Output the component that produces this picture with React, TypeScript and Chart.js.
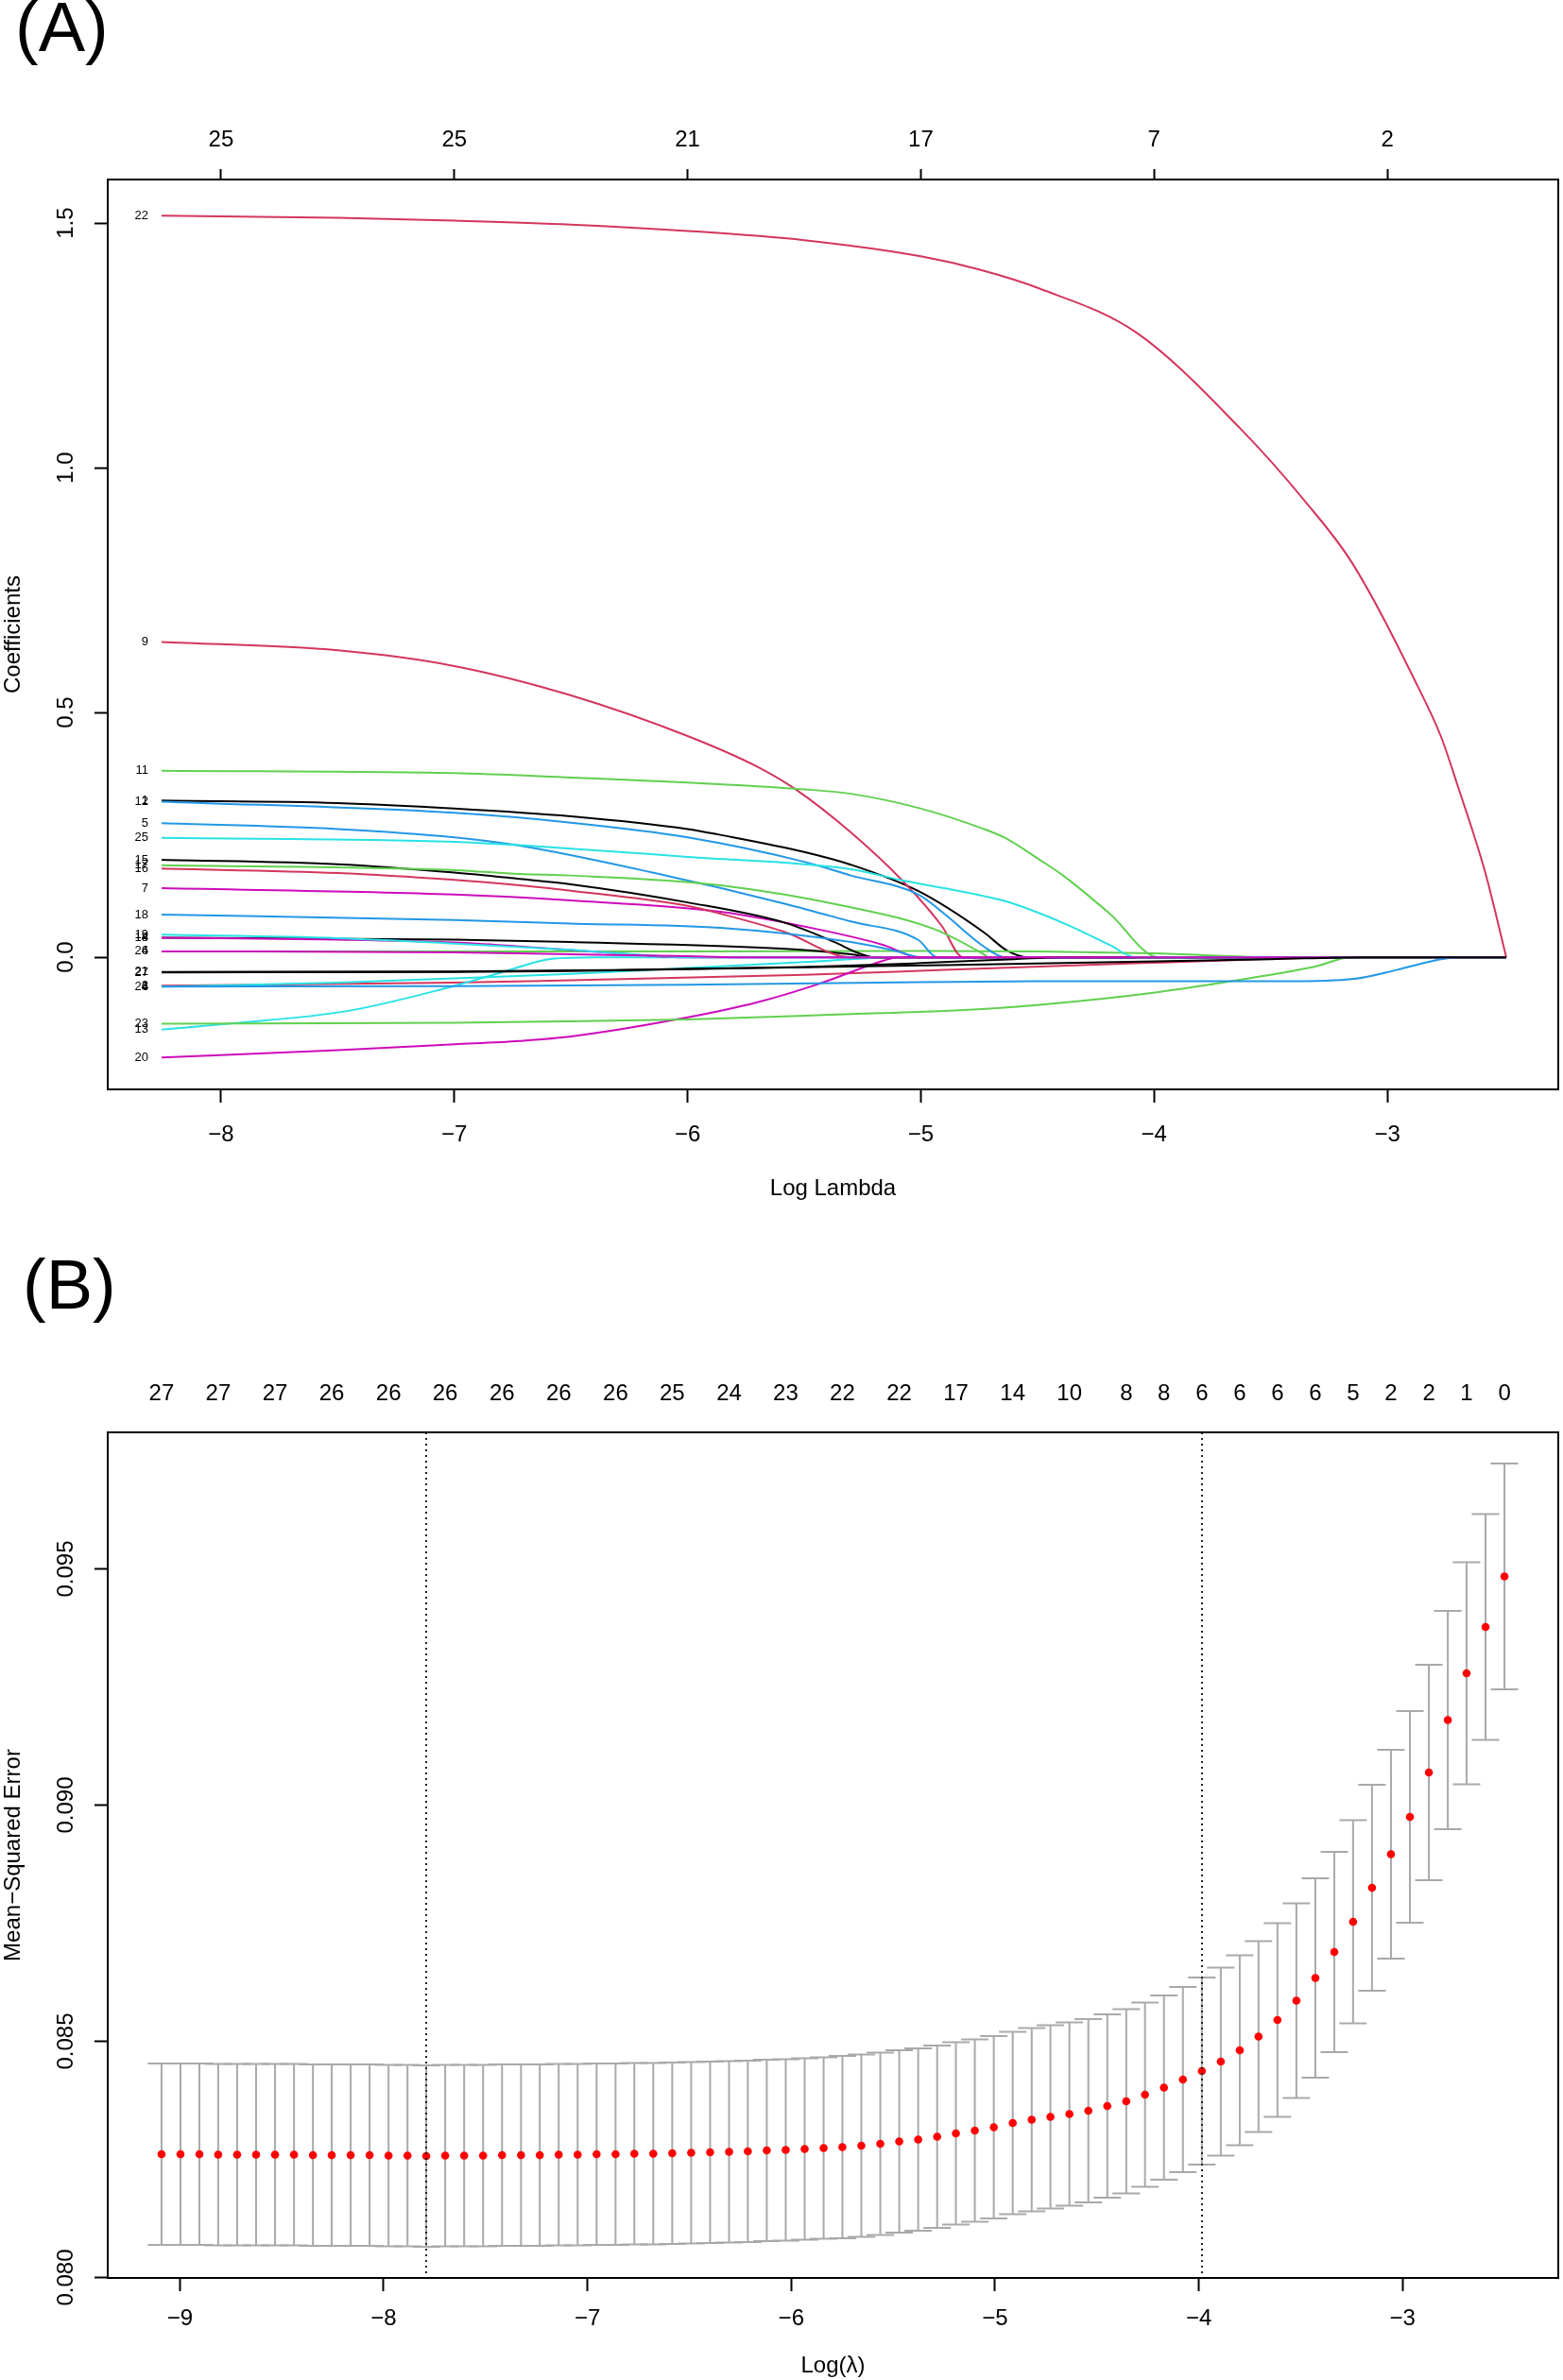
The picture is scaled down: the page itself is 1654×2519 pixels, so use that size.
import { useEffect, useRef } from "react";
import { Chart, registerables } from "chart.js";

Chart.register(...registerables);

const FONT = "'Liberation Sans', Arial, Helvetica, sans-serif";
const rPalette = ["#000000", "#D3365D", "#61D04F", "#2297E6", "#28E2E5", "#CD0BBC"];

// ---------- (A) coefficient paths ----------
const xTicksA = [-8, -7, -6, -5, -4, -3];
const xTickLabelsA = ["−8", "−7", "−6", "−5", "−4", "−3"];
const dfTopA = ["25", "25", "21", "17", "7", "2"];
const yTicksA = [0, 0.5, 1, 1.5];
const yTickLabelsA = ["0.0", "0.5", "1.0", "1.5"];
const logLambdaEndA = -2.49;

const varIds = [1, 2, 4, 5, 6, 7, 8, 9, 11, 12, 13, 14, 15, 16, 17, 18, 19, 20, 21, 22, 23, 24, 25, 26, 27];

const path1 = [[-8.255, 0.32], [-7.5, 0.315], [-7, 0.304], [-6.5, 0.288], [-6, 0.262], [-5.86, 0.25], [-5.5, 0.215], [-5.3, 0.189], [-5.01, 0.135], [-4.73, 0.051], [-4.63, 0.0135], [-4.54, 0]];
const path2 = [[-8.255, -0.058], [-7, -0.052], [-6.5, -0.047], [-5.5, -0.036], [-4.9, -0.026], [-4.05, -0.012], [-3.6, -0.005], [-3.2, 0]];
const path4 = [[-8.255, 0.012], [-6, 0.012], [-5, 0.013], [-4.5, 0.012], [-4, 0.008], [-3.46, 0]];
const path5 = [[-8.255, 0.274], [-7.5, 0.262], [-7, 0.245], [-6.72, 0.228], [-6.15, 0.173], [-5.58, 0.109], [-5.3, 0.073], [-5.01, 0.035], [-4.93, 0]];
const path6 = [[-8.255, -0.06], [-7.5, -0.052], [-7, -0.043], [-6.5, -0.034], [-6, -0.022], [-5.5, -0.01], [-5.1, 0]];
const path7 = [[-8.255, 0.141], [-7, 0.128], [-6.5, 0.116], [-5.86, 0.093], [-5.44, 0.057], [-5.16, 0.025], [-5.01, 0]];
const path8 = [[-8.255, 0.04], [-7, 0.036], [-6.5, 0.031], [-5.58, 0.017], [-5.3, 0.006], [-5.2, 0]];
const path9 = [[-8.255, 0.644], [-7.5, 0.627], [-7, 0.595], [-6.5, 0.535], [-6, 0.452], [-5.7, 0.389], [-5.54, 0.344], [-5.3, 0.255], [-5.08, 0.157], [-4.91, 0.064], [-4.82, 0]];
const path11 = [[-8.255, 0.381], [-7, 0.376], [-6.5, 0.367], [-6, 0.357], [-5.5, 0.343], [-5.3, 0.334], [-5.01, 0.305], [-4.73, 0.262], [-4.64, 0.244], [-4.49, 0.199], [-4.39, 0.167], [-4.19, 0.089], [-3.98, 0]];
const path12 = [[-8.255, 0.318], [-7, 0.295], [-6.5, 0.275], [-6, 0.245], [-5.5, 0.195], [-5.3, 0.167], [-5.01, 0.128], [-4.9, 0.089], [-4.73, 0.022], [-4.64, 0]];
const path13 = [[-8.255, -0.148], [-7.97, -0.136], [-7.46, -0.11], [-7.05, -0.065], [-6.79, -0.03], [-6.58, -0.003], [-6.4, 0]];
const path14 = [[-8.255, 0.04], [-7.5, 0.036], [-7, 0.03], [-6.72, 0.022], [-6.3, 0.008], [-6.04, 0]];
const path15 = [[-8.255, 0.199], [-7.5, 0.19], [-7, 0.173], [-6.72, 0.16], [-6.5, 0.149], [-6, 0.112], [-5.58, 0.07], [-5.37, 0.031], [-5.27, 0.009], [-5.2, 0]];
const path16 = [[-8.255, 0.181], [-7.5, 0.172], [-7, 0.158], [-6.72, 0.147], [-6.5, 0.136], [-6, 0.105], [-5.86, 0.089], [-5.58, 0.051], [-5.3, 0]];
const path17 = [[-8.255, 0.188], [-7, 0.178], [-6.72, 0.17], [-6.5, 0.167], [-5.86, 0.147], [-5.3, 0.102], [-4.94, 0.057], [-4.73, 0.006], [-4.71, 0]];
const path18 = [[-8.255, 0.087], [-7, 0.076], [-6.5, 0.069], [-5.86, 0.06], [-5.3, 0.031], [-5.1, 0.012], [-5.0, 0]];
const path19 = [[-8.255, 0.046], [-7.5, 0.039], [-7, 0.028], [-6.5, 0.015], [-6.2, 0.005], [-6.0, 0]];
const path20 = [[-8.255, -0.205], [-7.5, -0.19], [-7, -0.178], [-6.72, -0.171], [-6.5, -0.162], [-6, -0.123], [-5.7, -0.092], [-5.44, -0.055], [-5.16, -0.007], [-5.1, 0]];
const path21 = [[-8.255, -0.03], [-7, -0.029], [-6.5, -0.027], [-5.5, -0.02], [-5.0, -0.012], [-4.6, -0.004], [-4.4, 0]];
const path22 = [[-8.255, 1.515], [-7.5, 1.511], [-7, 1.505], [-6.5, 1.497], [-6, 1.484], [-5.5, 1.465], [-5, 1.432], [-4.75, 1.405], [-4.49, 1.366], [-4.075, 1.276], [-3.63, 1.08], [-3.35, 0.93], [-3.15, 0.805], [-2.87, 0.554], [-2.77, 0.451], [-2.7, 0.353], [-2.58, 0.173], [-2.49, 0]];
const path23 = [[-8.255, -0.136], [-7, -0.134], [-6.5, -0.131], [-6, -0.127], [-5.3, -0.116], [-4.9, -0.11], [-4.49, -0.097], [-3.98, -0.071], [-3.54, -0.039], [-3.3, -0.018], [-3.16, 0]];
const path24 = [[-8.255, -0.06], [-7, -0.059], [-6, -0.056], [-5, -0.051], [-4.5, -0.049], [-3.43, -0.049], [-3.14, -0.044], [-2.96, -0.026], [-2.77, -0.004], [-2.7, 0]];
const path25 = [[-8.255, 0.244], [-7, 0.236], [-6.72, 0.229], [-6, 0.205], [-5.3, 0.18], [-5.08, 0.157], [-4.9, 0.141], [-4.73, 0.125], [-4.64, 0.115], [-4.39, 0.07], [-4.19, 0.025], [-4.08, 0]];
const path26 = [[-8.255, 0.012], [-7, 0.01], [-6.5, 0.006], [-6, 0.002], [-5.8, 0]];
const path27 = [[-8.255, -0.031], [-7, -0.03], [-6.5, -0.028], [-5.3, -0.019], [-4.9, -0.016], [-4.05, -0.009], [-3.5, -0.004], [-3.1, 0]];

const coefPaths = [path1, path2, path4, path5, path6, path7, path8, path9, path11, path12, path13, path14, path15, path16, path17, path18, path19, path20, path21, path22, path23, path24, path25, path26, path27];

// ---------- (B) cross-validation curve ----------
const logLambdaB = [
  -9.09, -8.997, -8.904, -8.812, -8.719, -8.626, -8.533, -8.44, -8.347, -8.255,
  -8.162, -8.069, -7.976, -7.883, -7.791, -7.698, -7.605, -7.512, -7.419, -7.326,
  -7.234, -7.141, -7.048, -6.955, -6.862, -6.77, -6.677, -6.584, -6.491, -6.398,
  -6.305, -6.213, -6.12, -6.027, -5.934, -5.841, -5.749, -5.656, -5.563, -5.47,
  -5.377, -5.284, -5.192, -5.099, -5.006, -4.913, -4.82, -4.728, -4.635, -4.542,
  -4.449, -4.356, -4.264, -4.171, -4.078, -3.985, -3.892, -3.799, -3.707, -3.614,
  -3.521, -3.428, -3.335, -3.243, -3.15, -3.057, -2.964, -2.871, -2.778, -2.686,
  -2.593, -2.5,
];
const cvMean = [
  0.08261, 0.08261, 0.08261, 0.0826, 0.0826, 0.0826, 0.0826, 0.0826, 0.08259, 0.08259,
  0.08259, 0.08259, 0.08258, 0.08258, 0.08257, 0.08258, 0.08258, 0.08258, 0.08259, 0.08259,
  0.08259, 0.0826, 0.0826, 0.08261, 0.08261, 0.08262, 0.08262, 0.08263, 0.08264, 0.08265,
  0.08266, 0.08267, 0.08269, 0.0827, 0.08272, 0.08274, 0.08276, 0.08279, 0.08283, 0.08288,
  0.08292, 0.08298, 0.08305, 0.08311, 0.08318, 0.08327, 0.08334, 0.0834, 0.08346, 0.08353,
  0.08363, 0.08373, 0.08387, 0.08402, 0.08419, 0.08437, 0.08457, 0.08481, 0.0851, 0.08545,
  0.08586, 0.08634, 0.08689, 0.08753, 0.08825, 0.08896, 0.08975, 0.09069, 0.0918, 0.09279,
  0.09377, 0.09484,
];
const cvSd = [
  0.00192, 0.00192, 0.00192, 0.00192, 0.00192, 0.00192, 0.00192, 0.00192, 0.00192, 0.00192,
  0.00192, 0.00192, 0.00192, 0.00192, 0.00192, 0.00192, 0.00192, 0.00192, 0.00192, 0.00192,
  0.00192, 0.00192, 0.00192, 0.00192, 0.00192, 0.00192, 0.00192, 0.00192, 0.00192, 0.00192,
  0.00192, 0.00192, 0.00192, 0.00192, 0.00192, 0.00192, 0.00193, 0.00193, 0.00193, 0.00193,
  0.00193, 0.00193, 0.00193, 0.00193, 0.00193, 0.00193, 0.00194, 0.00194, 0.00194, 0.00194,
  0.00194, 0.00195, 0.00195, 0.00195, 0.00196, 0.00198, 0.00199, 0.00201, 0.00202, 0.00205,
  0.00206, 0.00211, 0.00212, 0.00215, 0.00218, 0.00221, 0.00224, 0.00228, 0.00231, 0.00235,
  0.00239, 0.00239,
];
const nzIndexB = [0, 3, 6, 9, 12, 15, 18, 21, 24, 27, 30, 33, 36, 39, 42, 45, 48, 51, 53, 55, 57, 59, 61, 63, 65, 67, 69, 71];
const nzLabelsB = ["27", "27", "27", "26", "26", "26", "26", "26", "26", "25", "24", "23", "22", "22", "17", "14", "10", "8", "8", "6", "6", "6", "6", "5", "2", "2", "1", "0"];
const xTicksB = [-9, -8, -7, -6, -5, -4, -3];
const xTickLabelsB = ["−9", "−8", "−7", "−6", "−5", "−4", "−3"];
const yTicksB = [0.08, 0.085, 0.09, 0.095];
const yTickLabelsB = ["0.080", "0.085", "0.090", "0.095"];
const minIndexB = 14;
const seIndexB = 55;

const boxPlugin = {
  id: "box",
  afterDraw(chart: any) {
    const { ctx, chartArea: a } = chart;
    ctx.save();
    ctx.strokeStyle = "#000";
    ctx.lineWidth = 2;
    ctx.strokeRect(a.left, a.top, a.right - a.left, a.bottom - a.top);
    ctx.restore();
  },
};

function yLabelPlugin(labels: string[]) {
  return {
    id: "yRotLabels",
    afterDraw(chart: any) {
      const s = chart.scales.y;
      const ctx = chart.ctx;
      ctx.save();
      ctx.fillStyle = "#000";
      ctx.font = `24px ${FONT}`;
      ctx.textAlign = "center";
      ctx.textBaseline = "middle";
      s.ticks.forEach((t: any, i: number) => {
        ctx.save();
        ctx.translate(s.right - 44, s.getPixelForValue(t.value));
        ctx.rotate(-Math.PI / 2);
        ctx.fillText(labels[i], 0, 0);
        ctx.restore();
      });
      ctx.restore();
    },
  };
}

function axisBase(min: number, max: number, ticks: number[], size: number, horizontal: boolean, tickLength: number) {
  return {
    type: "linear" as const,
    min,
    max,
    afterBuildTicks: (s: any) => {
      s.ticks = ticks.map((v) => ({ value: v }));
    },
    afterFit: (s: any) => {
      if (horizontal) s.height = size;
      else s.width = size;
    },
    grid: {
      drawOnChartArea: false,
      drawTicks: tickLength > 0,
      display: tickLength > 0,
      tickLength,
      tickWidth: 2,
      tickColor: "#000",
      color: "#000",
    },
    border: { display: false },
  };
}

function CoefPathChart() {
  const ref = useRef<HTMLCanvasElement>(null);
  useEffect(() => {
    if (!ref.current) return;
    const labelPlugin = {
      id: "pathLabels",
      afterDatasetsDraw(chart: any) {
        const { ctx, scales } = chart;
        ctx.save();
        ctx.font = `13px ${FONT}`;
        ctx.fillStyle = "#000";
        ctx.textAlign = "right";
        ctx.textBaseline = "middle";
        coefPaths.forEach((p, i) => {
          ctx.fillText(String(varIds[i]), scales.x.getPixelForValue(p[0][0]) - 14, scales.y.getPixelForValue(p[0][1]));
        });
        ctx.restore();
      },
    };
    const n = coefPaths.length;
    const chart = new Chart(ref.current, {
      type: "scatter",
      data: {
        datasets: coefPaths.map((p, i) => {
          const pts = p.map(([x, y]) => ({ x, y }));
          if (p[p.length - 1][0] < logLambdaEndA) pts.push({ x: logLambdaEndA, y: 0 });
          return {
            label: String(varIds[i]),
            data: pts,
            showLine: true,
            borderColor: rPalette[i % 6],
            borderWidth: 2,
            pointRadius: 0,
            cubicInterpolationMode: "monotone",
            order: n - i,
          };
        }),
      },
      options: {
        responsive: false,
        animation: false,
        layout: { padding: { left: 0, right: 5, top: 0, bottom: 0 }, autoPadding: false },
        plugins: { legend: { display: false }, tooltip: { enabled: false } },
        scales: {
          x: {
            ...axisBase(-8.486, -2.267, xTicksA, 147, true, 14),
            position: "bottom",
            ticks: { autoSkip: false, maxRotation: 0, padding: 20, color: "#000", font: { family: FONT, size: 24 }, callback: (_v: any, i: number) => xTickLabelsA[i] },
            title: { display: true, text: "Log Lambda", color: "#000", font: { family: FONT, size: 24 }, padding: { top: 0, bottom: 27 } },
          },
          x2: {
            ...axisBase(-8.486, -2.267, xTicksA, 190, true, 11),
            position: "top",
            ticks: { autoSkip: false, maxRotation: 0, padding: 16, color: "#000", font: { family: FONT, size: 24 }, callback: (_v: any, i: number) => dfTopA[i] },
          },
          y: {
            ...axisBase(-0.27, 1.589, yTicksA, 114, false, 14),
            position: "left",
            ticks: { display: false },
            title: { display: true, text: "Coefficients", color: "#000", font: { family: FONT, size: 24 }, padding: 0 },
          },
        },
      } as any,
      plugins: [labelPlugin, yLabelPlugin(yTickLabelsA), boxPlugin],
    });
    return () => chart.destroy();
  }, []);
  return <canvas ref={ref} width={1654} height={1300} style={{ position: "absolute", left: 0, top: 0, width: 1654, height: 1300 }} />;
}

function CvChart() {
  const ref = useRef<HTMLCanvasElement>(null);
  useEffect(() => {
    if (!ref.current) return;
    const errorBars = {
      id: "errorBars",
      beforeDatasetsDraw(chart: any) {
        const { ctx, scales } = chart;
        ctx.save();
        ctx.strokeStyle = "#A9A9A9";
        ctx.lineWidth = 2;
        logLambdaB.forEach((lv, i) => {
          const px = scales.x.getPixelForValue(lv);
          const hi = scales.y.getPixelForValue(cvMean[i] + cvSd[i]);
          const lo = scales.y.getPixelForValue(cvMean[i] - cvSd[i]);
          ctx.beginPath();
          ctx.moveTo(px, hi);
          ctx.lineTo(px, lo);
          ctx.moveTo(px - 14.5, hi);
          ctx.lineTo(px + 14.5, hi);
          ctx.moveTo(px - 14.5, lo);
          ctx.lineTo(px + 14.5, lo);
          ctx.stroke();
        });
        ctx.restore();
      },
    };
    const refLines = {
      id: "refLines",
      afterDatasetsDraw(chart: any) {
        const { ctx, scales, chartArea } = chart;
        ctx.save();
        ctx.strokeStyle = "#222";
        ctx.lineWidth = 2;
        ctx.setLineDash([2, 4]);
        [minIndexB, seIndexB].forEach((idx) => {
          const px = Math.round(scales.x.getPixelForValue(logLambdaB[idx]));
          ctx.beginPath();
          ctx.moveTo(px, chartArea.top);
          ctx.lineTo(px, chartArea.bottom);
          ctx.stroke();
        });
        ctx.restore();
      },
    };
    const chart = new Chart(ref.current, {
      type: "scatter",
      data: {
        datasets: [
          {
            label: "Mean-Squared Error",
            data: logLambdaB.map((x, i) => ({ x, y: cvMean[i] })),
            pointRadius: 4.3,
            pointBackgroundColor: "#FF0000",
            pointBorderWidth: 0,
            showLine: false,
          },
        ],
      },
      options: {
        responsive: false,
        animation: false,
        layout: { padding: { left: 0, right: 5, top: 0, bottom: 0 }, autoPadding: false },
        plugins: { legend: { display: false }, tooltip: { enabled: false } },
        scales: {
          x: {
            ...axisBase(-9.354, -2.236, xTicksB, 108, true, 14),
            position: "bottom",
            ticks: { autoSkip: false, maxRotation: 0, padding: 15, color: "#000", font: { family: FONT, size: 24 }, callback: (_v: any, i: number) => xTickLabelsB[i] },
            title: { display: true, text: "Log(λ)", color: "#000", font: { family: FONT, size: 24 }, padding: { top: 0, bottom: 0 } },
          },
          x2: {
            ...axisBase(-9.354, -2.236, nzIndexB.map((i) => logLambdaB[i]), 216, true, 0),
            position: "top",
            ticks: { autoSkip: false, maxRotation: 0, padding: 26, color: "#000", font: { family: FONT, size: 24 }, callback: (_v: any, i: number) => nzLabelsB[i] },
          },
          y: {
            ...axisBase(0.07999, 0.09789, yTicksB, 114, false, 14),
            position: "left",
            ticks: { display: false },
            title: { display: true, text: "Mean−Squared Error", color: "#000", font: { family: FONT, size: 24 }, padding: 0 },
          },
        },
      } as any,
      plugins: [errorBars, refLines, yLabelPlugin(yTickLabelsB), boxPlugin],
    });
    return () => chart.destroy();
  }, []);
  return <canvas ref={ref} width={1654} height={1219} style={{ position: "absolute", left: 0, top: 1300, width: 1654, height: 1219 }} />;
}

const panelLabel = (top: number, left: number): React.CSSProperties => ({
  position: "absolute",
  top,
  left,
  fontFamily: FONT,
  fontSize: 74,
  lineHeight: "74px",
  color: "#000",
  margin: 0,
});

export default function App() {
  return (
    <div style={{ position: "absolute", left: 0, top: 0, width: 1654, height: 2519, background: "#fff", overflow: "hidden" }}>
      <CoefPathChart />
      <CvChart />
      <div style={panelLabel(-8, 16)}>(A)</div>
      <div style={panelLabel(1323, 24)}>(B)</div>
    </div>
  );
}
